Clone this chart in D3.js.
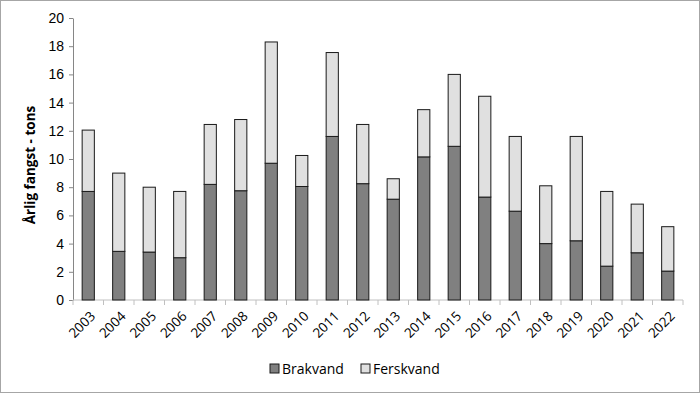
<!DOCTYPE html>
<html>
<head>
<meta charset="utf-8">
<script src="https://cdn.jsdelivr.net/npm/d3@7"></script>
<style>
body { margin:0; background:#fff; }
svg { font-family: "Open Sans", "Liberation Sans", sans-serif; }
</style>
</head>
<body>
<div id="chart-area"></div>
<script>
// data (tons)
var years = ["2003","2004","2005","2006","2007","2008","2009","2010","2011","2012",
	"2013","2014","2015","2016","2017","2018","2019","2020","2021","2022"];
var brakvand = [7.7, 3.45, 3.4, 3.0, 8.2, 7.75, 9.7, 8.05, 11.6, 8.25,
	7.15, 10.15, 10.9, 7.3, 6.3, 4.0, 4.2, 2.4, 3.35, 2.05];
var ferskvand = [4.35, 5.55, 4.6, 4.7, 4.25, 5.05, 8.6, 2.2, 5.95, 4.2,
	1.45, 3.35, 5.1, 7.15, 5.3, 4.1, 7.4, 5.3, 3.45, 3.15];
var yTicks = [0,2,4,6,8,10,12,14,16,18,20];
var seriesNames = ["Brakvand", "Ferskvand"];
var seriesColors = ["#808080", "#e0e0e0"];

var W = 700, H = 393;
var margin = {left:73, right:17, top:18, bottom:93};
var width = W - margin.left - margin.right,
	height = H - margin.top - margin.bottom;

var svg = d3.select("#chart-area")
	.append("svg")
		.attr("width", W)
		.attr("height", H);

// outer frame
svg.append("rect")
	.attr("x", 0.5).attr("y", 0.5)
	.attr("width", W-1).attr("height", H-1)
	.attr("fill", "none")
	.attr("stroke", "#a6a6a6");

var g = svg.append("g")
	.attr("transform", "translate(" +margin.left+ ", " +margin.top+ ")");

//scales
var x = d3.scaleBand()
	.domain(years)
	.range([0, width])
	.paddingInner(0.6)
	.paddingOuter(0.3);

var y = d3.scaleLinear()
	.domain([0, 20])
	.range([height, 0]);

//stack the data
var rows = years.map(function(yr, i){
	return {year: yr, Brakvand: brakvand[i], Ferskvand: ferskvand[i]};
});
var stacked = d3.stack().keys(seriesNames)(rows);

//y axis
var yAxis = g.append("g")
	.attr("class", "y axis")
	.call(d3.axisLeft(y).tickValues(yTicks).tickSize(4).tickSizeOuter(0));
yAxis.select(".domain").attr("stroke", "#868686");
yAxis.selectAll(".tick line").attr("stroke", "#868686");
yAxis.selectAll(".tick text")
	.attr("font-size", 14)
	.attr("fill", "#000")
	.attr("x", -9);

//x axis with ticks at category boundaries
var step = x.step();
var xAxisG = g.append("g")
	.attr("class", "x axis")
	.attr("transform", "translate(0, " +height+ ")");
xAxisG.append("line")
	.attr("x1", 0).attr("x2", width)
	.attr("stroke", "#c0c0c0");
xAxisG.selectAll("line.tk")
	.data(d3.range(years.length + 1))
	.enter().append("line")
		.attr("class", "tk")
		.attr("x1", function(i){ return i*step; })
		.attr("x2", function(i){ return i*step; })
		.attr("y1", 0).attr("y2", 5)
		.attr("stroke", "#c0c0c0");
xAxisG.selectAll("text")
	.data(years)
	.enter().append("text")
		.attr("text-anchor", "end")
		.attr("font-size", 13.5)
		.attr("transform", function(d){
			var cx = x(d) + x.bandwidth()/2 + 8;
			return "translate(" +cx+ ", 17) rotate(-45)";
		})
		.text(function(d){ return d; });

//bars
var layers = g.selectAll("g.layer")
	.data(stacked)
	.enter().append("g")
		.attr("class", "layer")
		.attr("fill", function(d, i){ return seriesColors[i]; });

layers.selectAll("rect")
	.data(function(d){ return d; })
	.enter().append("rect")
		.attr("x", function(d){ return x(d.data.year); })
		.attr("width", x.bandwidth())
		.attr("y", function(d){ return y(d[1]); })
		.attr("height", function(d){ return y(d[0]) - y(d[1]); })
		.attr("stroke", "#1a1a1a")
		.attr("stroke-width", 1);

//y label
g.append("text")
	.attr("transform", "rotate(-90)")
	.attr("x", -147)
	.attr("y", -38)
	.attr("text-anchor", "middle")
	.attr("font-size", 13.5)
	.attr("font-weight", "bold")
	.text("Årlig fangst - tons");

//legend
var legend = svg.append("g")
	.attr("transform", "translate(270, 364)");
var legendX = [0, 91];
seriesNames.forEach(function(name, i){
	var row = legend.append("g")
		.attr("transform", "translate(" +legendX[i]+ ", 0)");
	row.append("rect")
		.attr("width", 9)
		.attr("height", 9)
		.attr("fill", seriesColors[i])
		.attr("stroke", "#1a1a1a");
	row.append("text")
		.attr("x", 12)
		.attr("y", 10)
		.attr("font-size", 14)
		.text(name);
});
</script>
</body>
</html>
